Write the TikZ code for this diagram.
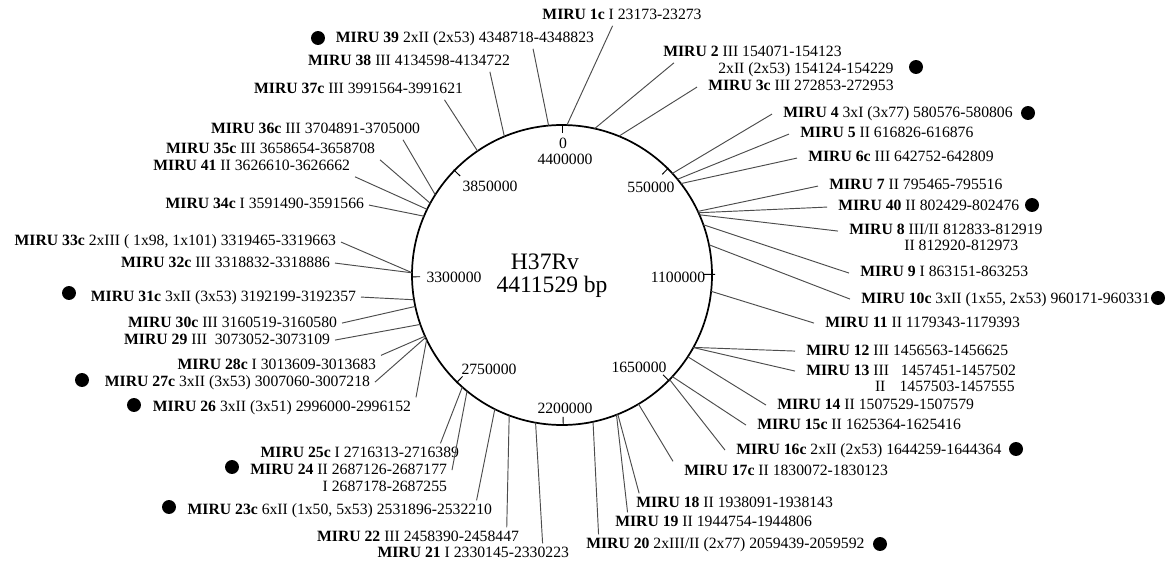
\documentclass[tikz,border=0pt]{standalone}
\usepackage{fontspec}
\setmainfont{Liberation Serif}
\newcommand{\miru}[2]{\textbf{MIRU #1} #2}

\begin{document}
\begin{tikzpicture}[x=0.637pt, y=-0.637pt,
  lbl/.style={inner ysep=1.5pt, text height=0.7em, text depth=0.2em},
  lft/.style={lbl, inner xsep=3pt, anchor=base east},
  rgt/.style={lbl, inner xsep=7pt, anchor=base west},
  dot/.style={circle, fill=black, inner sep=0pt, minimum size=8.9pt},
  link/.style={draw=black!70, line width=0.6pt},
  scl/.style={inner sep=0pt}]
\path[fill=white] (0,0) rectangle (1167,562);
\useasboundingbox (0,0) rectangle (1167,562);

\coordinate (c) at (562,275);
\draw[line width=1.1pt] (c) circle (150);
\node (h37) at (545,262) {\fontsize{15}{18}\selectfont H37Rv};
\node (bp) at (552,287) {\fontsize{15}{18}\selectfont 4411529 bp};

\begin{scope}[shift={(562,275)}]
\draw[line width=0.6pt] (-90:142) -- (-90:151);
\draw[line width=0.6pt] (-45.12:142) -- (-45.12:151);
\draw[line width=0.6pt] (-0.23:142) -- (-0.23:153);
\draw[line width=0.6pt] (44.65:142) -- (44.65:151);
\draw[line width=0.6pt] (89.53:142) -- (89.53:151);
\draw[line width=0.6pt] (134.42:142) -- (134.42:151);
\draw[line width=0.6pt] (179.30:142) -- (179.30:151);
\draw[line width=0.6pt] (224.18:142) -- (224.18:151);

\coordinate (p1c) at (-88.11:150);
\coordinate (p2) at (-77.43:150);
\coordinate (p3c) at (-67.73:150);
\coordinate (p4) at (-42.62:150);
\coordinate (p5) at (-39.66:150);
\coordinate (p6c) at (-37.55:150);
\coordinate (p7) at (-25.09:150);
\coordinate (p40) at (-24.52:150);
\coordinate (p8) at (-23.67:150);
\coordinate (p9) at (-19.56:150);
\coordinate (p10c) at (-11.65:150);
\coordinate (p11) at (6.24:150);
\coordinate (p12) at (28.86:150);
\coordinate (p13) at (28.93:150);
\coordinate (p14) at (33.02:150);
\coordinate (p15c) at (42.64:150);
\coordinate (p16c) at (44.18:150);
\coordinate (p17c) at (59.34:150);
\coordinate (p18) at (68.16:150);
\coordinate (p19) at (68.70:150);
\coordinate (p20) at (78.06:150);
\coordinate (p21) at (100.15:150);
\coordinate (p22) at (110.62:150);
\coordinate (p23c) at (116.61:150);
\coordinate (p24) at (129.28:150);
\coordinate (p25c) at (131.66:150);
\coordinate (p26) at (154.49:150);
\coordinate (p27c) at (155.39:150);
\coordinate (p28c) at (155.92:150);
\coordinate (p29) at (160.77:150);
\coordinate (p30c) at (167.91:150);
\coordinate (p31c) at (170.50:150);
\coordinate (p32c) at (180.83:150);
\coordinate (p33c) at (180.88:150);
\coordinate (p34c) at (203.08:150);
\coordinate (p41) at (205.95:150);
\coordinate (p35c) at (208.56:150);
\coordinate (p36c) at (212.33:150);
\coordinate (p37c) at (235.73:150);
\coordinate (p38) at (247.40:150);
\coordinate (p39) at (264.87:150);
\end{scope}

\node[scl] (s0) at (563,143) {0};
\node[scl] (s4400) at (565,159) {4400000};
\node[scl] (s550) at (651,187) {550000};
\node[scl] (s1100) at (678,277) {1100000};
\node[scl] (s1650) at (639,367) {1650000};
\node[scl] (s2200) at (565,408) {2200000};
\node[scl] (s2750) at (489,369) {2750000};
\node[scl] (s3300) at (454,277) {3300000};
\node[scl] (s3850) at (490,186) {3850000};

\node[lbl, anchor=base] (m1c) at (622,20) {\miru{1c}{I 23173-23273}};
\node[rgt] (m2) at (652,57) {\miru{2}{III 154071-154123}};
\node[rgt] (m2b) at (707,74) {2xII (2x53) 154124-154229};
\node[rgt] (m3c) at (697,91) {\miru{3c}{III 272853-272953}};
\node[rgt] (m4) at (772,118) {\miru{4}{3xI (3x77) 580576-580806}};
\node[rgt] (m5) at (789,138) {\miru{5}{II 616826-616876}};
\node[rgt] (m6c) at (797,162) {\miru{6c}{III 642752-642809}};
\node[rgt] (m7) at (818,190) {\miru{7}{II 795465-795516}};
\node[rgt] (m40) at (827,211) {\miru{40}{II 802429-802476}};
\node[rgt] (m8) at (838,235) {\miru{8}{III/II 812833-812919}};
\node[rgt] (m8b) at (893,251) {II 812920-812973};
\node[rgt] (m9) at (849,277) {\miru{9}{I 863151-863253}};
\node[rgt] (m10c) at (850,303) {\miru{10c}{3xII (1x55, 2x53) 960171-960331}};
\node[rgt] (m11) at (814,327) {\miru{11}{II 1179343-1179393}};
\node[rgt] (m12) at (795,355) {\miru{12}{III 1456563-1456625}};
\node[rgt] (m13) at (795,375) {\miru{13}{III\ \ \ 1457451-1457502}};
\node[rgt, anchor=base east] (m13b) at (1026,391) {II\hspace{0.9em}1457503-1457555};
\node[rgt] (m14) at (766,409) {\miru{14}{II 1507529-1507579}};
\node[rgt] (m15c) at (746,429) {\miru{15c}{II 1625364-1625416}};
\node[rgt] (m16c) at (725,454) {\miru{16c}{2xII (2x53) 1644259-1644364}};
\node[rgt] (m17c) at (673,475) {\miru{17c}{II 1830072-1830123}};
\node[rgt] (m18) at (625,507) {\miru{18}{II 1938091-1938143}};
\node[rgt] (m19) at (604,526) {\miru{19}{II 1944754-1944806}};
\node[rgt] (m20) at (575,548) {\miru{20}{2xIII/II (2x77) 2059439-2059592}};

\node[lft] (m21) at (574,557) {\miru{21}{I 2330145-2330223}};
\node[lft] (m22) at (524,541) {\miru{22}{III 2458390-2458447}};
\node[lft] (m23c) at (497,514) {\miru{23c}{6xII (1x50, 5x53) 2531896-2532210}};
\node[lft] (m24) at (452,474) {\miru{24}{II 2687126-2687177}};
\node[lft] (m24b) at (452,491) {I 2687178-2687255};
\node[lft] (m25c) at (464,457) {\miru{25c}{I 2716313-2716389}};
\node[lft] (m26) at (416,411) {\miru{26}{3xII (3x51) 2996000-2996152}};
\node[lft] (m27c) at (375,386) {\miru{27c}{3xII (3x53) 3007060-3007218}};
\node[lft] (m28c) at (381,369) {\miru{28c}{I 3013609-3013683}};
\node[lft] (m29) at (335,344) {\miru{29}{III\ \ 3073052-3073109}};
\node[lft] (m30c) at (342,327) {\miru{30c}{III 3160519-3160580}};
\node[lft] (m31c) at (361,301) {\miru{31c}{3xII (3x53) 3192199-3192357}};
\node[lft] (m32c) at (335,267) {\miru{32c}{III 3318832-3318886}};
\node[lft] (m33c) at (341,246) {\miru{33c}{2xIII ( 1x98, 1x101) 3319465-3319663}};
\node[lft] (m34c) at (369,209) {\miru{34c}{I 3591490-3591566}};
\node[lft] (m41) at (355,171) {\miru{41}{II 3626610-3626662}};
\node[lft] (m35c) at (380,154) {\miru{35c}{III 3658654-3658708}};
\node[lft] (m36c) at (425,134) {\miru{36c}{III 3704891-3705000}};
\node[lft] (m37c) at (468,94) {\miru{37c}{III 3991564-3991621}};
\node[lft] (m38) at (515,66) {\miru{38}{III 4134598-4134722}};
\node[lft] (m39) at (599,43) {\miru{39}{2xII (2x53) 4348718-4348823}};

\node[dot] (d39) at (318,38) {};
\node[dot] (d2) at (916,67) {};
\node[dot] (d4) at (1028,113) {};
\node[dot] (d40) at (1032,205) {};
\node[dot] (d10c) at (1158,298) {};
\node[dot] (d16c) at (1016,449) {};
\node[dot] (d20) at (880,544) {};
\node[dot] (d23c) at (169,507) {};
\node[dot] (d24) at (232,467) {};
\node[dot] (d26) at (134,405) {};
\node[dot] (d27c) at (82,380) {};
\node[dot] (d31c) at (69,293) {};

\path[link] (p1c) -- ([xshift=-6pt]m1c.south);
\path[link] (p2) -- ([xshift=14pt]m2.south west);
\path[link] (p3c) -- (m3c.west);
\path[link] (p4) -- (m4.west);
\path[link] (p5) -- (m5.west);
\path[link] (p6c) -- (m6c.west);
\path[link] (p7) -- (m7.west);
\path[link] (p40) -- (m40.west);
\path[link] (p8) -- (m8.west);
\path[link] (p9) -- (m9.west);
\path[link] (p10c) -- (m10c.west);
\path[link] (p11) -- (m11.west);
\path[link] (p12) -- (m12.west);
\path[link] (p13) -- (m13.west);
\path[link] (p14) -- (m14.west);
\path[link] (p15c) -- (m15c.west);
\path[link] (p16c) -- (m16c.west);
\path[link] (p17c) -- (m17c.north west);
\path[link] (p18) -- ([xshift=9pt]m18.north west);
\path[link] (p19) -- ([xshift=15pt]m19.north west);
\path[link] (p20) -- ([xshift=15pt]m20.north west);

\path[link] (p21) -- ([xshift=-20pt]m21.north east);
\path[link] (p22) -- ([xshift=-11pt]m22.north east);
\path[link] (p23c) -- ([xshift=-13pt]m23c.north east);
\path[link] (p24) -- (m24.east);
\path[link] (p25c) -- ([xshift=-15pt]m25c.north east);
\path[link] (p26) -- (m26.north east);
\path[link] (p27c) -- (m27c.east);
\path[link] (p28c) -- (m28c.north east);
\path[link] (p29) -- (m29.east);
\path[link] (p30c) -- (m30c.east);
\path[link] (p31c) -- (m31c.east);
\path[link] (p32c) -- (m32c.east);
\path[link] (p33c) -- (m33c.east);
\path[link] (p34c) -- (m34c.east);
\path[link] (p41) -- (m41.south east);
\path[link] (p35c) -- (m35c.south east);
\path[link] (p36c) -- ([xshift=-14pt]m36c.south east);
\path[link] (p37c) -- ([xshift=-15pt]m37c.south east);
\path[link] (p38) -- ([xshift=-16pt]m38.south east);
\path[link] (p39) -- ([xshift=-42pt]m39.south east);
\end{tikzpicture}
\end{document}
